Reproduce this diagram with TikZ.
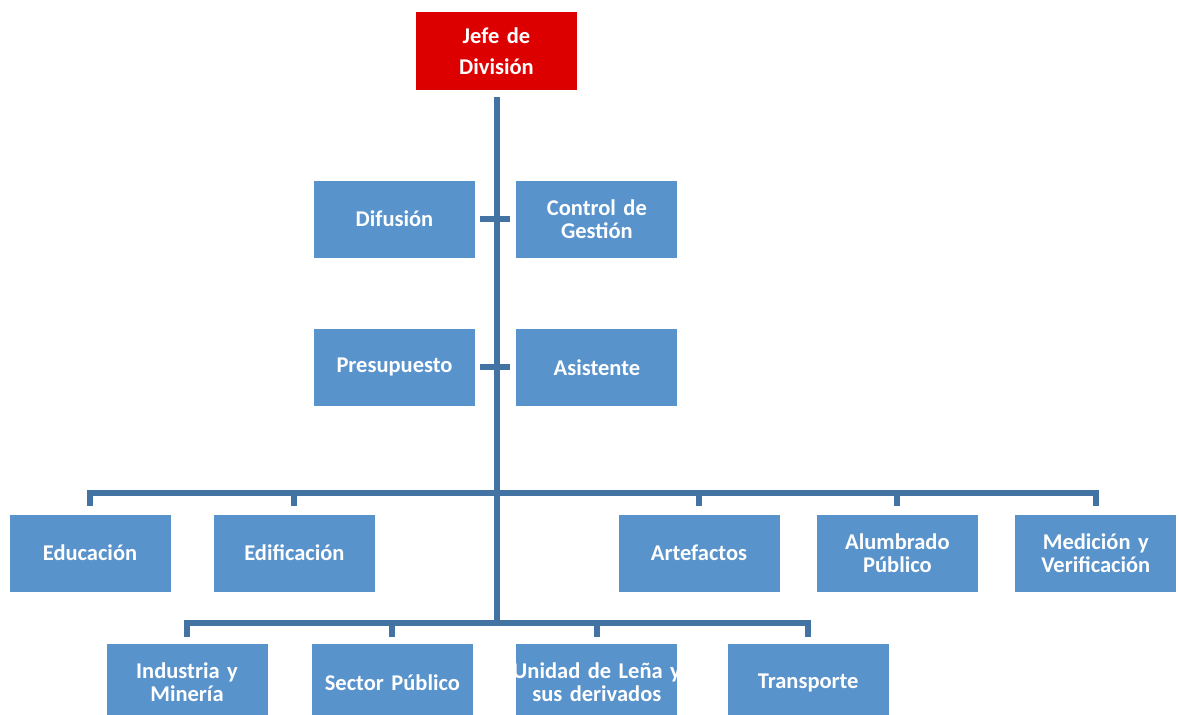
\documentclass[tikz,border=0pt]{standalone}
\usepackage{fontspec}
\setmainfont{Carlito}
\usepackage{tikz}
\usetikzlibrary{positioning}
\definecolor{boxblue}{RGB}{89,147,204}
\definecolor{linkblue}{RGB}{67,115,163}
\definecolor{chiefred}{RGB}{221,0,0}

\begin{document}
\begin{tikzpicture}[
  x=1pt, y=1pt,
  unit/.style={rectangle, fill=boxblue, text=white, inner xsep=0pt, text width=161pt, minimum height=77pt, align=center, font=\bfseries\fontsize{22.5}{23}\selectfont},
  chief/.style={unit, fill=chiefred, minimum height=78pt, font=\bfseries\fontsize{22.5}{31}\selectfont},
  link/.style={draw=linkblue, line width=6pt}
]
  \useasboundingbox (0,0) rectangle (1179,-715);

  \node[chief] (jefe) at (496.5,-51) {Jefe de\\División};
  \node[unit] (difusion) at (394.5,-219) {Difusión};
  \node[unit, right=41pt of difusion] (control) {Control de\\Gestión};
  \node[unit, below=71pt of difusion] (presupuesto) {Presupuesto};
  \node[unit, right=41pt of presupuesto] (asistente) {Asistente};

  \node[unit] (educacion) at (90,-553) {Educación};
  \node[unit, right=43pt of educacion] (edificacion) {Edificación};
  \node[unit] (artefactos) at (699,-553) {Artefactos};
  \node[unit, right=37pt of artefactos] (alumbrado) {Alumbrado\\Público};
  \node[unit, right=37pt of alumbrado] (medicion) {Medición y\\Verificación};

  \node[unit] (industria) at (187,-682.5) {Industria y\\Minería};
  \node[unit, right=44pt of industria] (sector) {Sector Público};
  \node[unit, right=43pt of sector] (unidad) {\makebox[\linewidth]{Unidad de Leña y}\\sus derivados};
  \node[unit, right=50pt of unidad] (transporte) {Transporte};

  \coordinate (bar1) at (496.5,-493);
  \coordinate (bar2) at (496.5,-623);

  \draw[link, shorten <=7pt] (jefe) -- (bar2);
  \draw[link, shorten <=5pt, shorten >=6pt] (difusion) -- (control);
  \draw[link, shorten <=5pt, shorten >=6pt] (presupuesto) -- (asistente);

  \draw[link, shorten >=8pt] (bar1) -| (educacion);
  \draw[link, shorten >=8pt] (bar1) -| (medicion);
  \draw[link, shorten >=8pt] (bar1 -| edificacion) -- (edificacion);
  \draw[link, shorten >=8pt] (bar1 -| artefactos) -- (artefactos);
  \draw[link, shorten >=8pt] (bar1 -| alumbrado) -- (alumbrado);

  \draw[link, shorten >=7pt] (bar2) -| (industria);
  \draw[link, shorten >=7pt] (bar2) -| (transporte);
  \draw[link, shorten >=7pt] (bar2 -| sector) -- (sector);
  \draw[link, shorten >=7pt] (bar2 -| unidad) -- (unidad);
\end{tikzpicture}
\end{document}
